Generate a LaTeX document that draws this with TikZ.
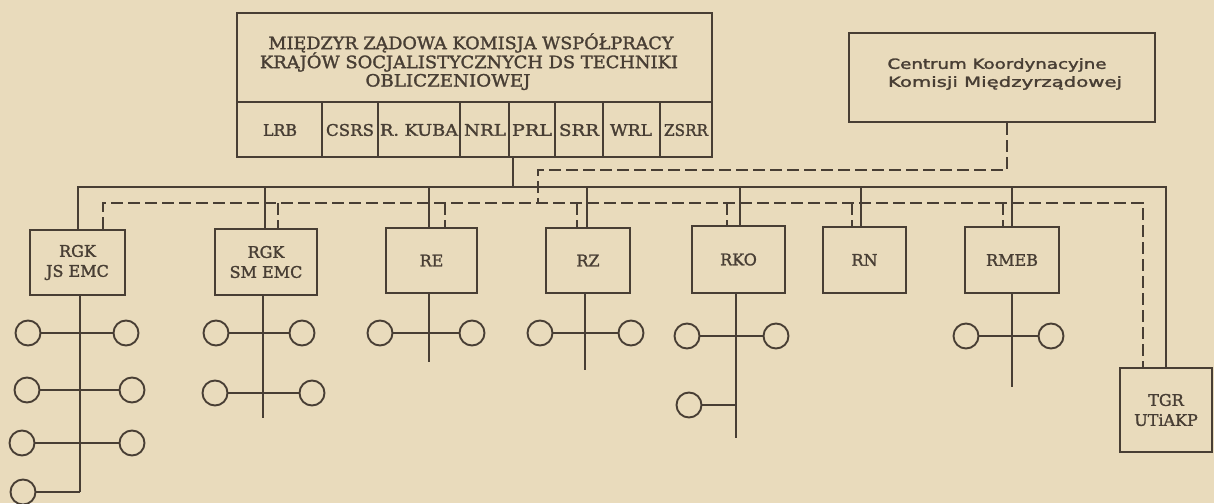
\documentclass[tikz,border=0pt]{standalone}
\usepackage{fontspec}
\usepackage{graphicx}
\setmainfont{DejaVu Serif}[BoldFont={DejaVu Serif}, BoldFeatures={FakeBold=1.6}]
\newfontfamily\censans{DejaVu Sans}[BoldFont={DejaVu Sans}, BoldFeatures={FakeBold=1.6}]
\definecolor{paper}{RGB}{233,219,188}
\definecolor{ink}{RGB}{72,62,52}
\newcommand\fitw[2]{\resizebox{#1}{\height}{#2}}
\tikzset{
  frame/.style={draw=ink, line width=2.4pt, inner sep=0pt},
  conn/.style={draw=ink, line width=1.9pt},
  dconn/.style={draw=ink, line width=1.9pt, dash pattern=on 12pt off 5pt},
  pinc/.style={circle, draw=ink, line width=1.9pt, minimum size=25pt, inner sep=0pt},
  lbl/.style={text=ink, inner sep=0pt, font=\bfseries\fontsize{16}{19}\selectfont},
  ttl/.style={text=ink, inner sep=0pt, font=\bfseries\fontsize{17}{19}\selectfont},
  cen/.style={text=ink, inner sep=0pt, font=\censans\bfseries\fontsize{14}{16}\selectfont},
}
\begin{document}
\begin{tikzpicture}[x=1pt,y=-1pt]
\fill[paper] (0,0) rectangle (1214,503);
\useasboundingbox (0,0) rectangle (1214,503);

% main box
\node[frame, minimum width=475pt, minimum height=144pt] (main) at (474.5,85) {};
\draw[ink, line width=2.4pt] (237,102) -- (712,102);
\foreach \x in {322,378,460,509,555,603,660} \draw[ink, line width=2pt] (\x,102) -- (\x,157);
\node[ttl] (t1) at (471,43) {\fitw{405pt}{MIĘDZYR ZĄDOWA KOMISJA WSPÓŁPRACY}};
\node[ttl] (t2) at (469,62) {\fitw{418pt}{KRAJÓW SOCJALISTYCZNYCH DS TECHNIKI}};
\node[ttl] (t3) at (448,82) {\fitw{165pt}{OBLICZENIOWEJ}};
\node[lbl] (c1) at (280,130) {\fitw{34pt}{LRB}};
\node[lbl] (c2) at (350,130) {\fitw{48pt}{CSRS}};
\node[lbl] (c3) at (419,130) {\fitw{78pt}{R. KUBA}};
\node[lbl] (c4) at (485,130) {\fitw{42pt}{NRL}};
\node[lbl] (c5) at (532,130) {\fitw{40pt}{PRL}};
\node[lbl] (c6) at (579,130) {\fitw{40pt}{SRR}};
\node[lbl] (c7) at (631,130) {\fitw{42pt}{WRL}};
\node[lbl] (c8) at (686,130) {\fitw{44pt}{ZSRR}};

% Centrum
\node[frame, minimum width=306pt, minimum height=89pt] (cent) at (1002,77.5) {};
\node[cen] (ct1) at (997,65) {\fitw{219pt}{Centrum Koordynacyjne}};
\node[cen] (ct2) at (1005,83) {\fitw{234pt}{Komisji Międzyrządowej}};

% boxes
\node[frame, minimum width=95pt, minimum height=65pt, align=center, lbl] (rgk1) at (77.5,262.5) {RGK\\[1pt]JS EMC};
\node[frame, minimum width=102pt, minimum height=66pt, align=center, lbl] (rgk2) at (266,262) {RGK\\[1pt]SM EMC};
\node[frame, minimum width=91pt, minimum height=65pt, lbl] (re) at (431.5,260.5) {RE};
\node[frame, minimum width=84pt, minimum height=65pt, lbl] (rz) at (588,260.5) {RZ};
\node[frame, minimum width=93pt, minimum height=67pt, lbl] (rko) at (738.5,259.5) {RKO};
\node[frame, minimum width=83pt, minimum height=66pt, lbl] (rn) at (864.5,260) {RN};
\node[frame, minimum width=94pt, minimum height=66pt, lbl] (rmeb) at (1012,260) {RMEB};
\node[frame, minimum width=92pt, minimum height=84pt, align=center, lbl] (tgr) at (1166,410) {TGR\\[1pt]UTiAKP};

% solid bus
\coordinate (bL) at (78,187);
\coordinate (bR) at (1166,187);
\coordinate (bM) at (513,187);
\draw[conn] (rgk1.north -| bL) -- (bL) -- (bR) -- (tgr.north -| bR);
\draw[conn] (main.south -| bM) -- (bM);
\foreach \n/\x in {rgk2/265, re/429, rz/587, rko/740, rn/861, rmeb/1012}
  \draw[conn] (\x,187) -- (\n.north -| \x,0);

% dashed lines
\coordinate (dL) at (103,203);
\coordinate (dR) at (1143,203);
\draw[dconn] (rgk1.north -| dL) -- (dL) -- (dR) -- (tgr.north -| dR);
\foreach \n/\x in {rgk2/278, re/445, rz/577, rko/727, rn/852, rmeb/1003}
  \draw[dconn] (\x,203) -- (\n.north -| \x,0);
\coordinate (u1) at (1007,170);
\coordinate (u2) at (538,170);
\coordinate (u3) at (538,203);
\draw[dconn] (cent.south -| u1) -- (u1) -- (u2) -- (u3);

% RGK1 group
\coordinate (v1) at (80,492);
\draw[conn] (rgk1.south -| v1) -- (v1);
\node[pinc] (a1l) at (28,333) {};
\node[pinc] (a1r) at (126,333) {};
\node[pinc] (a2l) at (27,390) {};
\node[pinc] (a2r) at (132,390) {};
\node[pinc] (a3l) at (22,443) {};
\node[pinc] (a3r) at (132,443) {};
\node[pinc] (a4l) at (23,492) {};
\draw[conn] (a1l) -- (a1r);
\draw[conn] (a2l) -- (a2r);
\draw[conn] (a3l) -- (a3r);
\draw[conn] (a4l) -- (v1);

% RGK2 group
\coordinate (v2) at (263,418);
\draw[conn] (rgk2.south -| v2) -- (v2);
\node[pinc] (b1l) at (216,333) {};
\node[pinc] (b1r) at (302,333) {};
\node[pinc] (b2l) at (215,393) {};
\node[pinc] (b2r) at (312,393) {};
\draw[conn] (b1l) -- (b1r);
\draw[conn] (b2l) -- (b2r);

% RE group
\coordinate (v3) at (429,362);
\draw[conn] (re.south -| v3) -- (v3);
\node[pinc] (e1l) at (380,333) {};
\node[pinc] (e1r) at (472,333) {};
\draw[conn] (e1l) -- (e1r);

% RZ group
\coordinate (v4) at (585,370);
\draw[conn] (rz.south -| v4) -- (v4);
\node[pinc] (z1l) at (540,333) {};
\node[pinc] (z1r) at (631,333) {};
\draw[conn] (z1l) -- (z1r);

% RKO group
\coordinate (v5) at (736,438);
\draw[conn] (rko.south -| v5) -- (v5);
\node[pinc] (k1l) at (687,336) {};
\node[pinc] (k1r) at (776,336) {};
\node[pinc] (k2l) at (689,405) {};
\draw[conn] (k1l) -- (k1r);
\draw[conn] (k2l) -- (k2l -| v5);

% RMEB group
\coordinate (v6) at (1012,387);
\draw[conn] (rmeb.south -| v6) -- (v6);
\node[pinc] (m1l) at (966,336) {};
\node[pinc] (m1r) at (1051,336) {};
\draw[conn] (m1l) -- (m1r);
\end{tikzpicture}
\end{document}
